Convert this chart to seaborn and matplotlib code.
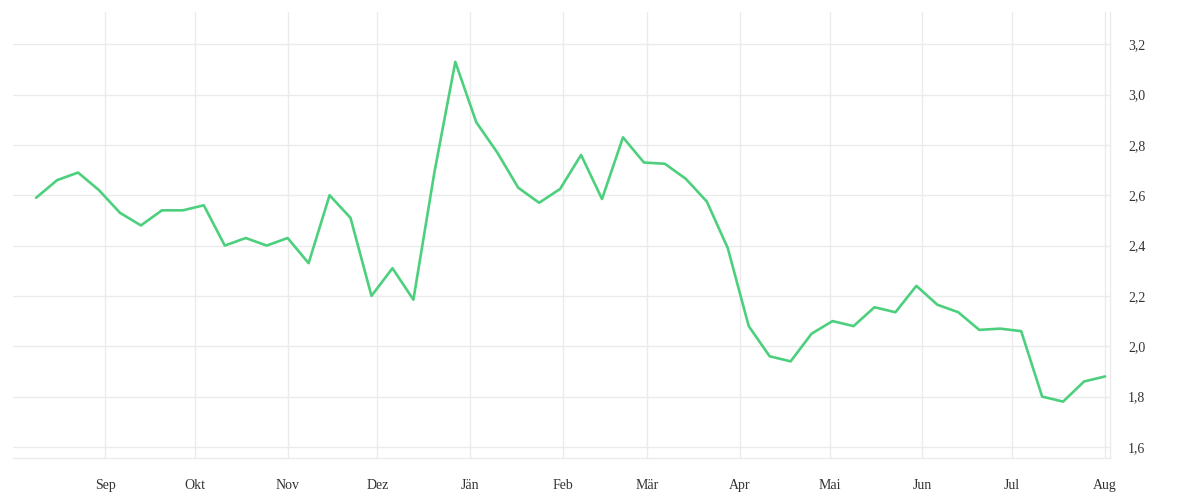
import pandas as pd
import seaborn as sns
import matplotlib.pyplot as plt
import matplotlib.ticker as mticker

# weekly values (Aug to Aug)
first_week = "2022-08-09"
values = [2.59, 2.66, 2.69, 2.62, 2.53, 2.48, 2.54, 2.54, 2.56, 2.40,
          2.43, 2.40, 2.43, 2.33, 2.60, 2.51, 2.20, 2.31, 2.185, 2.69,
          3.13, 2.89, 2.77, 2.63, 2.57, 2.625, 2.76, 2.585, 2.83, 2.73,
          2.725, 2.665, 2.575, 2.39, 2.08, 1.96, 1.94, 2.05, 2.10, 2.08,
          2.155, 2.135, 2.24, 2.165, 2.135, 2.065, 2.07, 2.06, 1.80, 1.78,
          1.86, 1.88]
month_labels = ["Sep", "Okt", "Nov", "Dez", "Jän", "Feb",
                "Mär", "Apr", "Mai", "Jun", "Jul", "Aug"]
y_ticks = [1.6, 1.8, 2.0, 2.2, 2.4, 2.6, 2.8, 3.0, 3.2]

weeks = pd.date_range(first_week, periods=len(values), freq="7D")
month_starts = pd.date_range("2022-09-01", periods=len(month_labels), freq="MS")
df = pd.DataFrame({"woche": weeks, "wert": values})

sns.set_style("white")
plt.rcParams["font.family"] = ["Liberation Serif", "DejaVu Serif"]

grid_col = "#ebebeb"
text_col = "#333333"

fig, ax = plt.subplots(figsize=(12, 5), dpi=100)
fig.subplots_adjust(left=0.011, right=0.925, top=0.976, bottom=0.084)

sns.lineplot(data=df, x="woche", y="wert", color="#4cd07d", linewidth=1.9, ax=ax)

ax.set_xlim(pd.Timestamp("2022-08-01 08:00"), pd.Timestamp("2023-08-02 16:00"))
ax.set_ylim(1.556, 3.328)

ax.set_xticks(month_starts)
ax.set_xticklabels(month_labels)
ax.set_yticks(y_ticks)
ax.yaxis.set_major_formatter(mticker.FuncFormatter(lambda v, p: f"{v:.1f}".replace(".", ",")))
ax.yaxis.tick_right()

ax.grid(True, color=grid_col, linewidth=1)
ax.set_axisbelow(True)
for side in ["top", "left"]:
    ax.spines[side].set_visible(False)
for side in ["bottom", "right"]:
    ax.spines[side].set_color(grid_col)
    ax.spines[side].set_linewidth(1)

ax.tick_params(axis="x", length=8, width=1, color=grid_col, pad=7,
               labelsize=10, labelcolor=text_col)
ax.tick_params(axis="y", length=0, pad=13, labelsize=10, labelcolor=text_col)

ax.set_xlabel("")
ax.set_ylabel("")

plt.savefig("out.png", dpi=100)
